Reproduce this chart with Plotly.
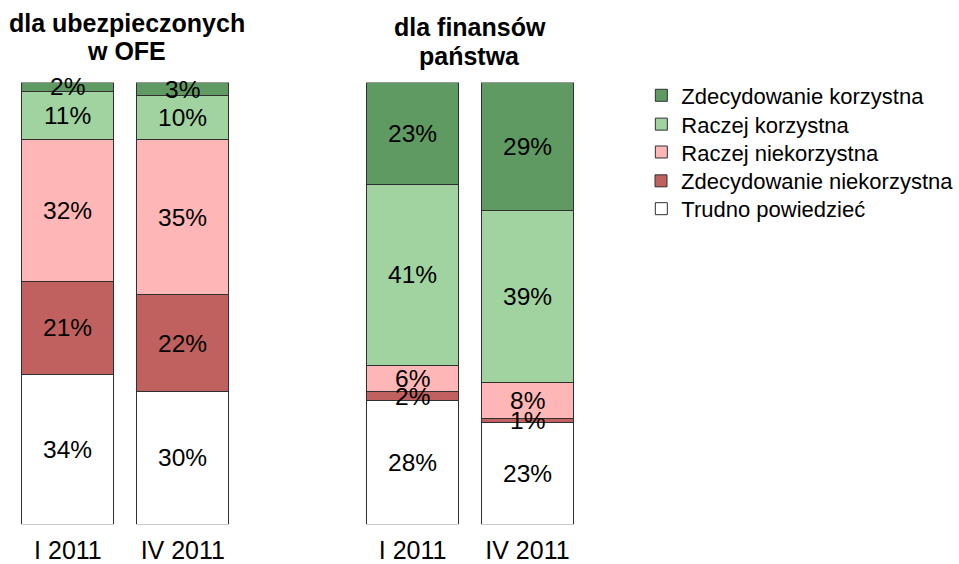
import plotly.graph_objects as go

categories = ["I 2011", "IV 2011"]
series_names = ["Trudno powiedzieć", "Zdecydowanie niekorzystna", "Raczej niekorzystna",
                "Raczej korzystna", "Zdecydowanie korzystna"]
colors = ["#ffffff", "#c0605f", "#ffb6b6", "#a0d3a0", "#5f9a62"]

# Panel 1: dla ubezpieczonych w OFE
ofe_trudno = [34, 30]
ofe_zdec_niekorz = [21, 22]
ofe_racz_niekorz = [32, 35]
ofe_racz_korz = [11, 10]
ofe_zdec_korz = [2, 3]

# Panel 2: dla finansów państwa
fin_trudno = [28, 23]
fin_zdec_niekorz = [2, 1]
fin_racz_niekorz = [6, 8]
fin_racz_korz = [41, 39]
fin_zdec_korz = [23, 29]

title_left = ["dla ubezpieczonych", "w OFE"]
title_right = ["dla finansów", "państwa"]

ofe = [ofe_trudno, ofe_zdec_niekorz, ofe_racz_niekorz, ofe_racz_korz, ofe_zdec_korz]
fin = [fin_trudno, fin_zdec_niekorz, fin_racz_niekorz, fin_racz_korz, fin_zdec_korz]

W, H = 959, 564
legend_keys = ["legend5", "legend4", "legend3", "legend2", "legend"]  # bottom-to-top stack order

fig = go.Figure()
for p, (data, xa, ya) in enumerate([(ofe, "x", "y"), (fin, "x2", "y2")]):
    base = [0] * len(categories)
    for i, (name, vals, col) in enumerate(zip(series_names, data, colors)):
        fig.add_trace(go.Bar(
            x=categories, y=vals, name=name, xaxis=xa, yaxis=ya,
            marker=dict(color=col, line=dict(color="#303030", width=1)),
            legend=legend_keys[i], showlegend=(p == 0), hoverinfo="skip",
        ))
        for j, c in enumerate(categories):
            fig.add_annotation(
                x=c, y=base[j] + vals[j] / 2, xref=xa, yref=ya, text=f"{vals[j]}%",
                showarrow=False, font=dict(size=24.5, color="black"),
                xanchor="center", yanchor="middle",
            )
            base[j] += vals[j]

y0, y1 = 1 - 527 / H, 1 - 83 / H
axis_common = dict(showgrid=False, zeroline=False, showline=False,
                   tickfont=dict(size=25, color="black"), ticks="outside",
                   ticklen=4, tickcolor="rgba(0,0,0,0)", range=[-0.5, 1.5])
yaxis_common = dict(range=[0, 100], visible=False, showgrid=False)

legend_y = [96, 125, 153, 182, 210]
legend_layout = {}
for k, yy in zip(["legend", "legend2", "legend3", "legend4", "legend5"], legend_y):
    legend_layout[k] = dict(x=642 / W, y=1 - yy / H, xanchor="left", yanchor="middle",
                            font=dict(size=22, color="black"), bgcolor="rgba(0,0,0,0)")

fig.update_layout(
    width=W, height=H,
    margin=dict(l=0, r=0, t=0, b=0),
    paper_bgcolor="white", plot_bgcolor="white",
    barmode="stack", bargap=0.2,
    font=dict(family="Liberation Sans, Arial, sans-serif", color="black"),
    xaxis=dict(domain=[10.5 / W, 240.5 / W], anchor="y", **axis_common),
    xaxis2=dict(domain=[355.5 / W, 585.5 / W], anchor="y2", **axis_common),
    yaxis=dict(domain=[y0, y1], anchor="x", **yaxis_common),
    yaxis2=dict(domain=[y0, y1], anchor="x2", **yaxis_common),
    showlegend=True,
    **legend_layout,
)

for txt, yy in zip(title_left, [23, 51]):
    fig.add_annotation(text=f"<b>{txt}</b>", x=127 / W, y=1 - yy / H, xref="paper", yref="paper",
                       showarrow=False, font=dict(size=25, color="black"),
                       xanchor="center", yanchor="middle")
for txt, yy in zip(title_right, [27, 56]):
    fig.add_annotation(text=f"<b>{txt}</b>", x=470 / W, y=1 - yy / H, xref="paper", yref="paper",
                       showarrow=False, font=dict(size=25, color="black"),
                       xanchor="center", yanchor="middle")

fig.write_html("out.html", config={"displayModeBar": False},
               post_script="document.body.style.margin='0px';document.body.style.overflow='hidden';")
